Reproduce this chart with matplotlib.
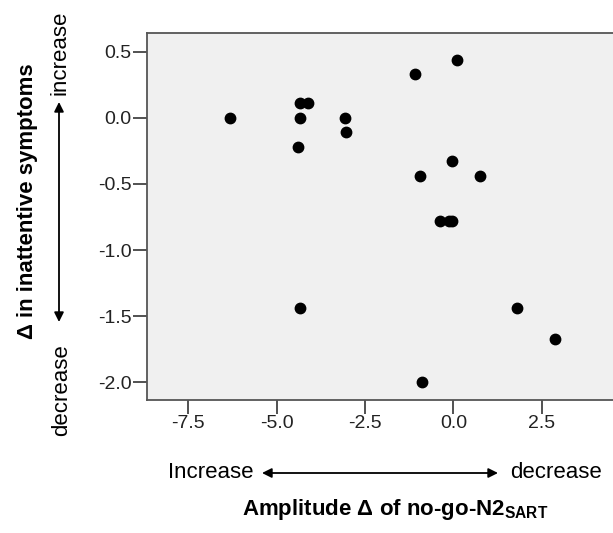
import matplotlib
matplotlib.use('Agg')
import matplotlib.pyplot as plt

# amplitude change of no-go-N2 (SART) vs change in inattentive symptoms
amp_delta = [-6.33, -4.33, -4.10, -4.33, -3.08, -3.03, -4.40, -1.08, 0.09, -0.04,
             -0.95, 0.75, -0.38, -0.12, -0.04, -4.33, 1.81, 2.89, -0.88]
symptom_delta = [0.0, 0.11, 0.11, 0.0, 0.0, -0.11, -0.22, 0.33, 0.44, -0.33,
                 -0.44, -0.44, -0.78, -0.78, -0.78, -1.44, -1.44, -1.67, -2.0]
x_ticks = [-7.5, -5.0, -2.5, 0.0, 2.5]
y_ticks = [0.5, 0.0, -0.5, -1.0, -1.5, -2.0]

plt.rcParams['font.family'] = ['Liberation Sans', 'DejaVu Sans']
plt.rcParams['mathtext.fontset'] = 'custom'
plt.rcParams['mathtext.rm'] = 'Liberation Sans'
plt.rcParams['mathtext.bf'] = 'Liberation Sans:bold'

W, H = 613, 533
fig = plt.figure(figsize=(W / 100, H / 100), dpi=100)
ax = fig.add_axes([147 / W, 133 / H, 483 / W, 367 / H])
ax.set_facecolor('#f0f0f0')

ax.scatter(amp_delta, symptom_delta, s=56, color='black', zorder=3)

ax.set_xlim(-8.67, 5.0)
ax.set_ylim(-2.134, 0.641)
ax.set_xticks(x_ticks)
ax.set_xticklabels([f'{v:.1f}' for v in x_ticks])
ax.set_yticks(y_ticks)
ax.set_yticklabels([f'{v:.1f}' for v in y_ticks])
ax.tick_params(length=10, width=1.2, pad=1, labelsize=14, color='#333333',
               labelcolor='#222222')
for s in ax.spines.values():
    s.set_color('#555555')
    s.set_linewidth(1.3)


def fy(py):
    return 1 - py / H


# y-axis annotations
fig.text(28 / W, fy(201), 'Δ in inattentive symptoms', rotation=90, fontsize=16,
         fontweight='bold', ha='center', va='center')
fig.text(60 / W, fy(53), 'increase', rotation=90, fontsize=16, ha='center', va='center')
fig.text(62 / W, fy(390), 'decrease', rotation=90, fontsize=16, ha='center', va='center')
ax.annotate('', xy=(59, H - 102), xytext=(59, H - 322), xycoords='figure pixels',
            textcoords='figure pixels',
            arrowprops=dict(arrowstyle='<|-|>', color='black', lw=1.3, mutation_scale=14,
                            shrinkA=0, shrinkB=0))

# x-axis annotations
fig.text(211 / W, fy(472), 'Increase', fontsize=16, ha='center', va='center')
fig.text(556 / W, fy(472), 'decrease', fontsize=16, ha='center', va='center')
ax.annotate('', xy=(262, H - 473), xytext=(498, H - 473), xycoords='figure pixels',
            textcoords='figure pixels',
            arrowprops=dict(arrowstyle='<|-|>', color='black', lw=1.3, mutation_scale=14,
                            shrinkA=0, shrinkB=0))
fig.text(395 / W, fy(510), r'Amplitude Δ of no-go-N2$_\mathbf{SART}$', fontsize=16,
         fontweight='bold', ha='center', va='center')

fig.savefig('out.png', dpi=100)
